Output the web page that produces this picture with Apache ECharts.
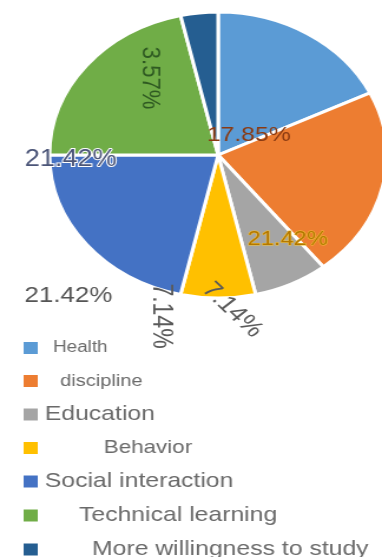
<!DOCTYPE html>
<html>
<head>
<meta charset="utf-8">
<script src="https://cdn.jsdelivr.net/npm/echarts@6/dist/echarts.min.js"></script>
<style>
  html, body { margin: 0; padding: 0; background: #fff; overflow: hidden; }
  /* the drawing is laid out narrow and widened horizontally */
  #chart { width: 324px; height: 600px; transform: scaleX(1.179); transform-origin: 0 0; }
</style>
</head>
<body>
<div id="chart"></div>
<script>
// Share of responses per category (%)
const categories = ['Health', 'discipline', 'Education', 'Behavior', 'Social interaction', 'Technical learning', 'More willingness to study'];
const shares = [17.85, 21.42, 7.14, 7.14, 21.42, 21.42, 3.57];
const sliceColors = ['#5B9BD5', '#ED7D31', '#A5A5A5', '#FFC000', '#4472C4', '#70AD47', '#255E91'];

// Label placement relative to the pie centre: [dx, dy, rotate]
const labelSpots = [
  [26, -20, 0],
  [59, 84, 0],
  [12, 155, -48],
  [-49, 161, -90],
  [-127, 141, 0],
  [-125, 5, 0],
  [-58, -77, -90]
];
const labelStyles = [
  { color: '#8a3a12', fontSize: 21 },
  { color: '#b37700', fontSize: 20, textBorderColor: '#f3c23a', textBorderWidth: 1 },
  { color: '#5a5a5a', fontSize: 23 },
  { color: '#5a5a5a', fontSize: 23 },
  { color: '#555555', fontSize: 22 },
  { color: '#4b5578', fontSize: 23, textBorderColor: '#ffffff', textBorderWidth: 2 },
  { color: '#2f5a22', fontSize: 22 }
];

// Legend text sizes and indents per entry
const legendFont = [16, 17, 21, 19, 21, 21, 21];
const legendIndent = [7, 13, 0, 50, 0, 29, 40];

const cx = 185, cy = 155, radius = 143;

const rich = {};
legendFont.forEach((fs, i) => {
  rich['r' + i] = { fontSize: fs, height: 20, lineHeight: 20, color: '#6a6a6a', padding: [0, 0, 0, legendIndent[i]], fontFamily: 'Liberation Sans' };
});

const chart = echarts.init(document.getElementById('chart'));
chart.setOption({
  animation: false,
  textStyle: { fontFamily: 'Liberation Sans' },
  legend: {
    orient: 'vertical',
    left: 13,
    top: 333,
    icon: 'rect',
    itemWidth: 14,
    itemHeight: 14,
    itemGap: 13,
    data: categories,
    formatter: name => '{r' + categories.indexOf(name) + '|' + name + '}',
    textStyle: { rich: rich }
  },
  series: [{
    type: 'pie',
    center: [cx, cy],
    radius: radius,
    startAngle: 90,
    clockwise: true,
    itemStyle: { borderColor: '#fff', borderWidth: 3 },
    label: {
      show: true,
      position: 'inside',
      fontFamily: 'Liberation Sans',
      formatter: p => p.value.toFixed(2) + '%'
    },
    labelLine: { show: false },
    labelLayout: p => {
      const s = labelSpots[p.dataIndex];
      return { x: cx + s[0], y: cy + s[1], rotate: s[2], align: 'center', verticalAlign: 'middle' };
    },
    emphasis: { disabled: true },
    data: categories.map((name, i) => ({
      name: name,
      value: shares[i],
      itemStyle: { color: sliceColors[i] },
      label: labelStyles[i]
    }))
  }]
});
</script>
</body>
</html>
